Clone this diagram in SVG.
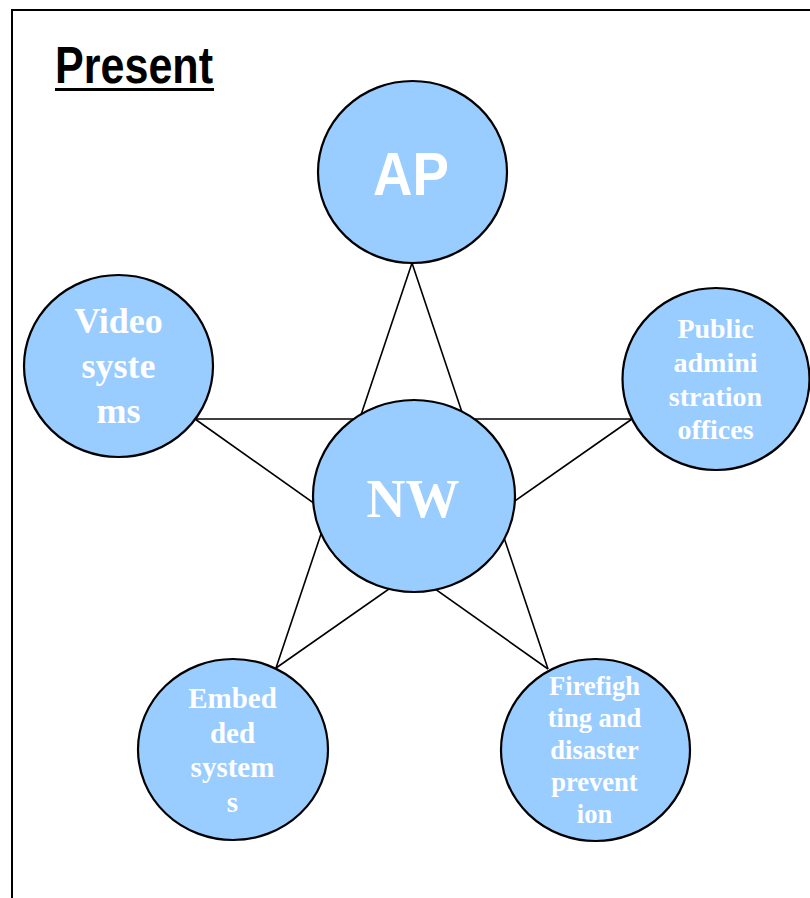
<svg xmlns="http://www.w3.org/2000/svg" width="810" height="898" viewBox="0 0 810 898">
  <style>
    .node { fill: #99CCFF; stroke: #000; stroke-width: 2.2; }
    .edge { stroke: #000; stroke-width: 1.6; fill: none; }
    .lbl { fill: #fff; font-family: "Liberation Serif", "Times New Roman", serif; font-weight: bold; text-anchor: middle; }
  </style>
  <rect x="0" y="0" width="810" height="898" fill="#fff"/>
  <!-- outer frame (runs off the right and bottom edges) -->
  <rect x="12" y="10" width="820" height="920" fill="none" stroke="#000" stroke-width="2"/>

  <!-- title -->
  <g id="title">
    <text x="55" y="83" font-family="Liberation Sans Narrow, Liberation Sans, Arial, sans-serif" font-weight="bold" font-size="52" textLength="158" lengthAdjust="spacingAndGlyphs" fill="#000">Present</text>
    <rect x="55" y="88" width="159" height="3" fill="#000"/>
  </g>

  <!-- pentagram connectors -->
  <g id="connectors">
    <line class="edge" x1="412" y1="263" x2="276" y2="668"/>
    <line class="edge" x1="412" y1="263" x2="548" y2="669"/>
    <line class="edge" x1="195" y1="419" x2="632" y2="419"/>
    <line class="edge" x1="195" y1="419" x2="548" y2="669"/>
    <line class="edge" x1="632" y1="419" x2="276" y2="668"/>
  </g>

  <g id="ap">
    <ellipse class="node" cx="412.5" cy="172" rx="94.5" ry="91"/>
    <text x="411" y="195" font-family="Liberation Sans, Arial, sans-serif" font-weight="bold" font-size="62" fill="#fff" text-anchor="middle" textLength="76" lengthAdjust="spacingAndGlyphs">AP</text>
  </g>

  <g id="video">
    <ellipse class="node" cx="118.5" cy="366" rx="94.5" ry="91"/>
    <text class="lbl" font-size="36" x="118.5" y="333">Video</text>
    <text class="lbl" font-size="36" x="118.5" y="378">syste</text>
    <text class="lbl" font-size="36" x="118.5" y="423">ms</text>
  </g>

  <g id="public">
    <ellipse class="node" cx="716" cy="379" rx="93.5" ry="91"/>
    <text class="lbl" font-size="28" x="715.5" y="338">Public</text>
    <text class="lbl" font-size="28" x="715.5" y="372">admini</text>
    <text class="lbl" font-size="28" x="715.5" y="406">stration</text>
    <text class="lbl" font-size="28" x="715.5" y="439">offices</text>
  </g>

  <g id="nw">
    <ellipse class="node" cx="414" cy="496" rx="101" ry="96"/>
    <text class="lbl" x="413" y="517" font-size="54">NW</text>
  </g>

  <g id="embedded">
    <ellipse class="node" cx="233" cy="749.5" rx="95" ry="90.5"/>
    <text class="lbl" font-size="29" x="232.5" y="708">Embed</text>
    <text class="lbl" font-size="29" x="232.5" y="743">ded</text>
    <text class="lbl" font-size="29" x="232.5" y="777">system</text>
    <text class="lbl" font-size="29" x="232.5" y="812">s</text>
  </g>

  <g id="firefighting">
    <ellipse class="node" cx="595.5" cy="750" rx="94.5" ry="91"/>
    <text class="lbl" font-size="26.5" x="594.5" y="695">Firefigh</text>
    <text class="lbl" font-size="26.5" x="594.5" y="727">ting and</text>
    <text class="lbl" font-size="26.5" x="594.5" y="759">disaster</text>
    <text class="lbl" font-size="26.5" x="594.5" y="791">prevent</text>
    <text class="lbl" font-size="26.5" x="594.5" y="823">ion</text>
  </g>
</svg>
